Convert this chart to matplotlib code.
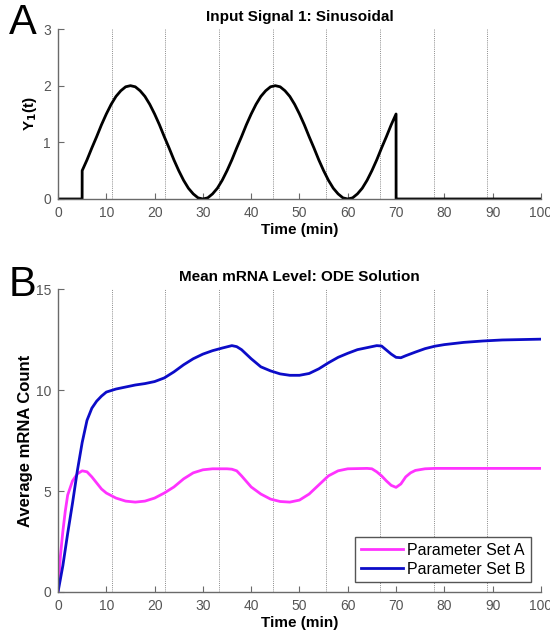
import numpy as np
import matplotlib
matplotlib.use("Agg")
import matplotlib.pyplot as plt

plt.rcParams['font.family'] = ['Liberation Sans', 'DejaVu Sans']

# --- Panel A: input signal ---
sig_t = [0, 4.99] + list(range(5, 71)) + [70.01, 100]
_period = [0.5, 0.69, 0.90, 1.10, 1.31, 1.5, 1.67, 1.81, 1.91, 1.98,
           2.0, 1.98, 1.91, 1.81, 1.67, 1.5, 1.31, 1.10, 0.90, 0.69,
           0.5, 0.33, 0.19, 0.09, 0.02, 0.0, 0.02, 0.09, 0.19, 0.33]
sig_y = [0, 0] + _period + _period + [0.5, 0.69, 0.90, 1.10, 1.31, 1.5] + [0, 0]

# --- Panel B: mean mRNA, two parameter sets ---
a_t = [0, 0.5, 1, 1.5, 2, 3, 4, 5, 6, 7, 8, 9, 10, 12, 14, 16, 18, 20, 22, 24,
       26, 28, 30, 32, 35, 36, 37, 38, 40, 42, 44, 46, 48, 50, 52, 54, 56, 58,
       60, 64, 65, 66, 67, 68, 69, 70, 71, 72, 73, 74, 76, 78, 100]
a_y = [0, 1.8, 3.0, 4.0, 4.8, 5.5, 5.85, 6.0, 5.95, 5.7, 5.4, 5.1, 4.9, 4.65,
       4.5, 4.45, 4.5, 4.65, 4.9, 5.2, 5.6, 5.9, 6.05, 6.1, 6.1, 6.08, 6.0,
       5.75, 5.2, 4.85, 4.6, 4.48, 4.45, 4.55, 4.85, 5.3, 5.75, 6.0, 6.1, 6.12,
       6.1, 5.95, 5.75, 5.5, 5.28, 5.18, 5.35, 5.7, 5.9, 6.02, 6.1, 6.12, 6.12]

b_t = [0, 1, 2, 3, 4, 5, 6, 7, 8, 9, 10, 12, 14, 16, 18, 20, 22, 24, 26, 28,
       30, 32, 34, 36, 37, 38, 40, 42, 44, 46, 48, 50, 52, 54, 56, 58, 60, 62,
       64, 66, 67, 68, 69, 70, 71, 72, 74, 76, 78, 80, 84, 88, 92, 96, 100]
b_y = [0, 1.3, 2.9, 4.4, 6.0, 7.4, 8.5, 9.1, 9.45, 9.7, 9.9, 10.05, 10.15,
       10.25, 10.32, 10.42, 10.6, 10.9, 11.25, 11.55, 11.78, 11.95, 12.08,
       12.2, 12.15, 12.0, 11.55, 11.15, 10.95, 10.8, 10.73, 10.73, 10.82,
       11.05, 11.35, 11.62, 11.82, 12.0, 12.1, 12.2, 12.18, 11.98, 11.78,
       11.62, 11.6, 11.7, 11.88, 12.05, 12.17, 12.25, 12.36, 12.43, 12.48,
       12.5, 12.52]

series_labels = ["Parameter Set A", "Parameter Set B"]
series_colors = ["#ff33ff", "#0c0cc8"]
xticks = list(range(0, 101, 10))
grid_x = [100 / 9 * k for k in range(1, 10)]

axis_gray = "#6a6a6a"


def style_axes(ax):
    for s in ["top", "right"]:
        ax.spines[s].set_visible(False)
    for s in ["left", "bottom"]:
        ax.spines[s].set_color(axis_gray)
        ax.spines[s].set_linewidth(1.0)
    ax.tick_params(direction="in", colors=axis_gray, labelsize=10, length=4,
                   pad=5, labelcolor="#555555")
    ax.set_xlim(0, 100)
    ax.set_xticks(xticks)
    for gx in grid_x:
        ax.axvline(gx, color="#8a8a8a", linestyle=(0, (1, 1.2)), linewidth=0.7,
                   zorder=0)


fig = plt.figure(figsize=(5.5, 6.39), dpi=100)

ax1 = fig.add_axes([0.1055, 0.6886, 0.878, 0.266])
style_axes(ax1)
ax1.plot(sig_t, sig_y, color="black", linewidth=2)
ax1.set_ylim(0, 3)
ax1.set_yticks([0, 1, 2, 3])
ax1.set_title("Input Signal 1: Sinusoidal", fontsize=11, fontweight="bold", pad=6)
ax1.set_xlabel("Time (min)", fontsize=11, fontweight="bold", labelpad=2)
ax1.set_ylabel("Y$_\\mathbf{1}$(t)", fontsize=11, fontweight="bold", labelpad=3)

ax2 = fig.add_axes([0.1055, 0.0736, 0.878, 0.474])
style_axes(ax2)
ax2.plot(a_t, a_y, color=series_colors[0], linewidth=2, label=series_labels[0])
ax2.plot(b_t, b_y, color=series_colors[1], linewidth=2, label=series_labels[1])
ax2.set_ylim(0, 15)
ax2.set_yticks([0, 5, 10, 15])
ax2.set_title("Mean mRNA Level: ODE Solution", fontsize=11, fontweight="bold", pad=6)
ax2.set_xlabel("Time (min)", fontsize=11, fontweight="bold", labelpad=2)
ax2.set_ylabel("Average mRNA Count", fontsize=12, fontweight="bold", labelpad=2)
leg = ax2.legend(loc="lower right", fontsize=11.5, fancybox=False, framealpha=1,
                 edgecolor="#555555", borderaxespad=0.6, handlelength=2.6,
                 borderpad=0.35, labelspacing=0.25, handletextpad=0.3)
leg.get_frame().set_linewidth(1.0)

fig.text(0.016, 0.995, "A", fontsize=30, va="top", ha="left")
fig.text(0.016, 0.585, "B", fontsize=30, va="top", ha="left")

fig.savefig("out.png", dpi=100)
